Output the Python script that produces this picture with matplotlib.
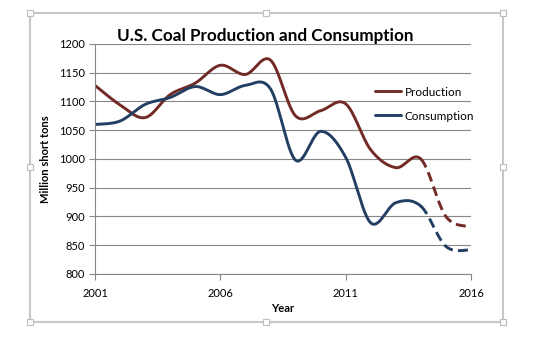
import matplotlib
matplotlib.use('Agg')
import matplotlib.pyplot as plt
from matplotlib.patches import Rectangle
import numpy as np

plt.rcParams['font.family'] = ['Lato', 'DejaVu Sans']

# data (million short tons)
years = [2001, 2002, 2003, 2004, 2005, 2006, 2007, 2008,
         2009, 2010, 2011, 2012, 2013, 2014, 2015, 2016]
production = [1128, 1094, 1072, 1112, 1132, 1163, 1147, 1172,
              1075, 1084, 1096, 1016, 985, 1000, 900, 882]
consumption = [1060, 1066, 1095, 1107, 1126, 1112, 1128, 1122,
               998, 1048, 1003, 889, 924, 918, 848, 842]
last_actual = 2014
xticks = [2001, 2006, 2011, 2016]
yticks = list(range(800, 1201, 50))

prod_color = '#722A26'
cons_color = '#223F63'
grid_color = '#878787'


def smooth(x, y, n=30):
    # excel style smoothed line: cubic bezier with catmull-rom control points
    x = np.asarray(x, float)
    y = np.asarray(y, float)
    px = np.concatenate([[x[0]], x, [x[-1]]])
    py = np.concatenate([[y[0]], y, [y[-1]]])
    xs, ys = [], []
    t = np.linspace(0, 1, n)
    for i in range(1, len(px) - 2):
        p0 = np.array([px[i], py[i]])
        p3 = np.array([px[i + 1], py[i + 1]])
        p1 = p0 + (np.array([px[i + 1], py[i + 1]]) - np.array([px[i - 1], py[i - 1]])) / 6
        p2 = p3 - (np.array([px[i + 2], py[i + 2]]) - np.array([px[i], py[i]])) / 6
        b = ((1 - t) ** 3)[:, None] * p0 + (3 * (1 - t) ** 2 * t)[:, None] * p1 \
            + (3 * (1 - t) * t ** 2)[:, None] * p2 + (t ** 3)[:, None] * p3
        if i > 1:
            b = b[1:]
        xs.append(b[:, 0])
        ys.append(b[:, 1])
    return np.concatenate(xs), np.concatenate(ys)


fig = plt.figure(figsize=(5.36, 3.38), dpi=100)
ax = fig.add_axes([95 / 536, 64 / 338, 376 / 536, 230 / 338])

for vals, col, name in [(production, prod_color, 'Production'),
                        (consumption, cons_color, 'Consumption')]:
    sx, sy = smooth(years, vals)
    solid = sx <= last_actual + 1e-9
    dashed = sx >= last_actual - 1e-9
    ax.plot(sx[solid], sy[solid], color=col, lw=2.1, solid_capstyle='round', label=name)
    ax.plot(sx[dashed], sy[dashed], color=col, lw=2.1, dashes=(3.4, 1.8))

ax.set_xlim(2001, 2016)
ax.set_ylim(800, 1200)
ax.set_xticks(xticks)
ax.set_yticks(yticks)
ax.tick_params(axis='both', labelsize=8, colors=grid_color, labelcolor='black',
               length=4, width=0.8)
ax.tick_params(axis='x', pad=6)
ax.tick_params(axis='y', pad=3)
ax.grid(axis='y', color=grid_color, lw=0.8)
ax.set_axisbelow(True)
for s in ['top', 'right']:
    ax.spines[s].set_visible(False)
for s in ['left', 'bottom']:
    ax.spines[s].set_color(grid_color)
    ax.spines[s].set_linewidth(0.8)

ax.set_xlabel('Year', fontsize=8, fontweight='bold', labelpad=3)
ax.set_ylabel('Million short tons', fontsize=8, fontweight='bold', labelpad=6)

fig.text(265 / 536, 1 - 36 / 338, 'U.S. Coal Production and Consumption',
         fontsize=12.3, fontweight='bold', ha='center', va='center')

leg = ax.legend(loc='upper left', bbox_to_anchor=(0.745, 0.815), frameon=False,
                fontsize=8.5, handlelength=2.2, handletextpad=0.3, labelspacing=1.1,
                borderpad=0, borderaxespad=0)

# chart border with handles
fig.patches.append(Rectangle((30 / 536, 1 - 322 / 338), 473 / 536, 309 / 338,
                             transform=fig.transFigure, fill=False,
                             edgecolor='#C8C8C8', lw=1.5))
for hx in [30, 266, 503]:
    for hy in [13, 167, 322]:
        if hx == 266 and hy == 167:
            continue
        fig.patches.append(Rectangle(((hx - 3) / 536, 1 - (hy + 3) / 338), 6 / 536, 6 / 338,
                                     transform=fig.transFigure, facecolor='white',
                                     edgecolor='#BDBDBD', lw=0.8))

plt.savefig('out.png', dpi=100)
